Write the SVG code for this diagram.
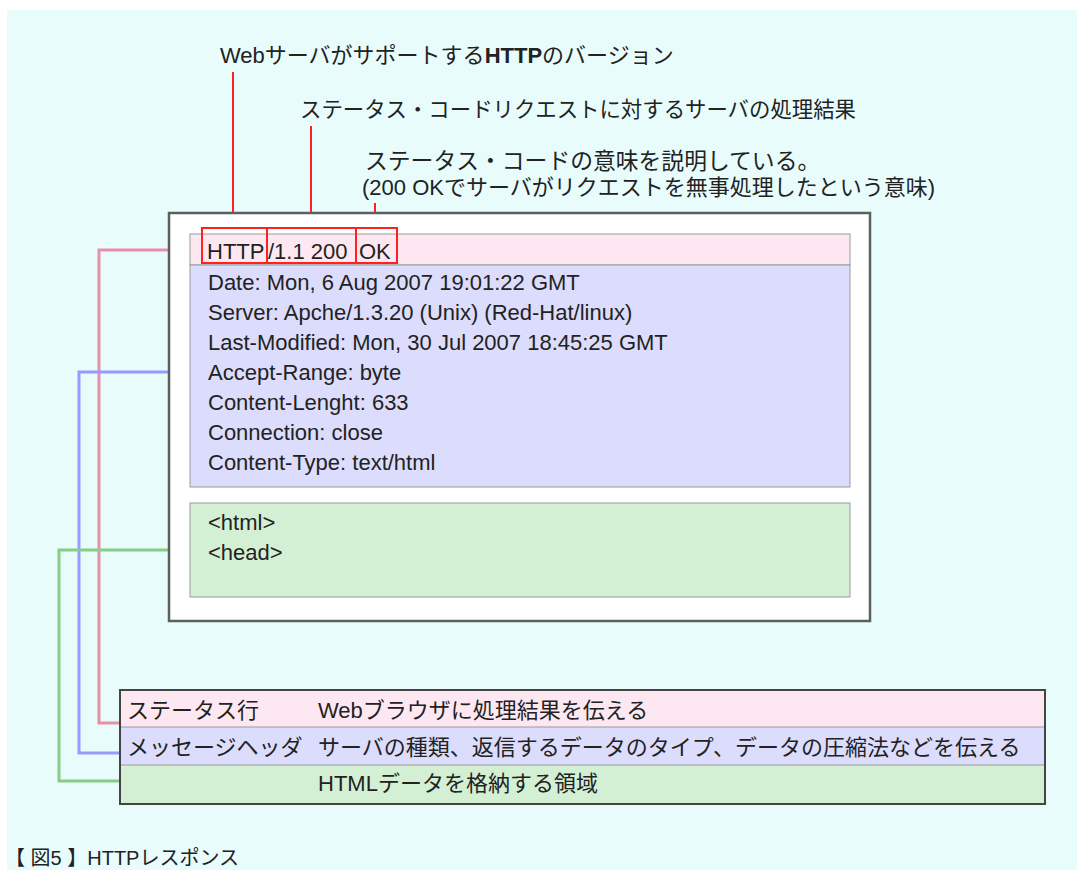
<svg xmlns="http://www.w3.org/2000/svg" width="1077" height="870" viewBox="0 0 1077 870">
<style>
.t{font-family:"Liberation Sans","Noto Sans CJK JP",sans-serif;font-size:22px;fill:#222}
.j{font-family:"Noto Sans CJK JP","Liberation Sans",sans-serif;font-size:22px;fill:#222}
.red{fill:none;stroke:#ff2020;stroke-width:2}
.row{stroke:#9a9a9a;stroke-width:1}
</style>
<rect x="0" y="0" width="1077" height="870" fill="#ffffff"/>
<rect x="7" y="10" width="1070" height="860" fill="#e8fcfc"/>

<g id="connectors" fill="none" stroke-width="3">
  <polyline points="190,250 99,250 99,723 120,723" stroke="#e890aa"/>
  <polyline points="190,372 79,372 79,753 120,753" stroke="#9999ff"/>
  <polyline points="190,550 59,550 59,781 120,781" stroke="#88cc88"/>
  <line x1="233" y1="72" x2="233" y2="228" stroke="#ff2020" stroke-width="2"/>
  <line x1="311" y1="126" x2="311" y2="228" stroke="#ff2020" stroke-width="2"/>
  <line x1="375" y1="203" x2="375" y2="228" stroke="#ff2020" stroke-width="2"/>
</g>

<g id="label-version">
  <text class="t" x="220" y="63">Webサーバがサポートする<tspan font-weight="bold">HTTP</tspan>のバージョン</text>
</g>
<g id="label-status-code">
  <text class="j" x="300" y="117" style="font-size:21.4px">ステータス・コードリクエストに対するサーバの処理結果</text>
</g>
<g id="label-meaning">
  <text class="j" x="365" y="169" style="font-size:22.8px">ステータス・コードの意味を説明している。</text>
  <text class="t" x="362" y="195">(200 OKでサーバがリクエストを無事処理したという意味)</text>
</g>

<g id="response-box">
  <rect x="169" y="213" width="701" height="408" fill="#ffffff" stroke="#5a5f5f" stroke-width="2.5"/>
</g>

<g id="status-line">
  <rect class="row" x="190" y="234" width="660" height="31" fill="#fde8f2"/>
  <text class="t" y="259"><tspan x="207">HTTP</tspan><tspan x="268">/1.1 200</tspan><tspan x="359">OK</tspan></text>
  <rect class="red" x="202" y="228" width="65" height="35"/>
  <rect class="red" x="267" y="228" width="89" height="35"/>
  <rect class="red" x="356" y="228" width="41" height="35"/>
</g>

<g id="message-header">
  <rect class="row" x="190" y="265" width="660" height="222" fill="#dcdcfc"/>
  <text class="t" x="208" y="290">Date: Mon, 6 Aug 2007 19:01:22 GMT</text>
  <text class="t" x="208" y="320">Server: Apche/1.3.20 (Unix) (Red-Hat/linux)</text>
  <text class="t" x="208" y="350">Last-Modified: Mon, 30 Jul 2007 18:45:25 GMT</text>
  <text class="t" x="208" y="380">Accept-Range: byte</text>
  <text class="t" x="208" y="410">Content-Lenght: 633</text>
  <text class="t" x="208" y="440">Connection: close</text>
  <text class="t" x="208" y="470">Content-Type: text/html</text>
</g>

<g id="body">
  <rect class="row" x="190" y="503" width="660" height="94" fill="#d4f0d4"/>
  <text class="t" x="208" y="530">&lt;html&gt;</text>
  <text class="t" x="208" y="560">&lt;head&gt;</text>
</g>

<g id="legend">
  <rect x="120" y="690" width="925" height="37" fill="#fde8f2"/>
  <rect x="120" y="727" width="925" height="38" fill="#dcdcfc"/>
  <rect x="120" y="765" width="925" height="39" fill="#d4f0d4"/>
  <line x1="120" y1="727" x2="1045" y2="727" stroke="#9a9a9a" stroke-width="1"/>
  <line x1="120" y1="765" x2="1045" y2="765" stroke="#9a9a9a" stroke-width="1"/>
  <rect x="120" y="690" width="925" height="114" fill="none" stroke="#444" stroke-width="2"/>
  <text class="j" x="127" y="718">ステータス行</text>
  <text class="t" x="318" y="718">Webブラウザに処理結果を伝える</text>
  <text class="j" x="127" y="755">メッセージヘッダ</text>
  <text class="j" x="318" y="755">サーバの種類、返信するデータのタイプ、データの圧縮法などを伝える</text>
  <text class="t" x="318" y="791">HTMLデータを格納する領域</text>
</g>

<g id="caption">
  <text class="t" x="5" y="865" style="font-size:20px">【 図5 】HTTPレスポンス</text>
</g>
</svg>
